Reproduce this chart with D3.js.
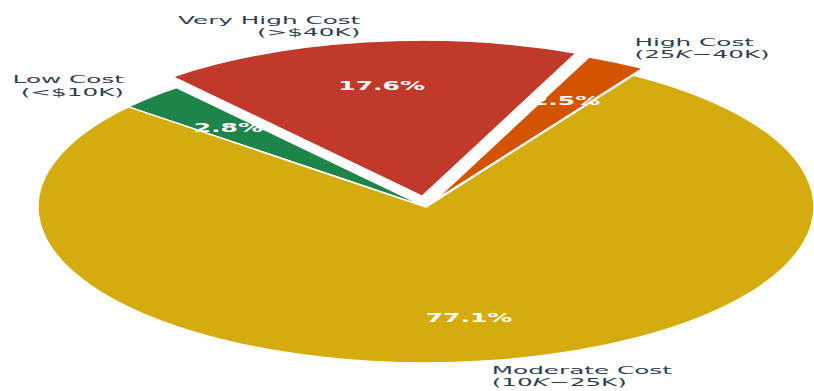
<!DOCTYPE html>
<html>
<head>
<meta charset="utf-8">
<script src="https://cdn.jsdelivr.net/npm/d3@7"></script>
<style>
  html, body { margin: 0; padding: 0; background: #fff; }
  svg { display: block; }
</style>
</head>
<body>
<svg id="chart" width="814" height="391"></svg>
<script>
// ---- data ----
const categories = ["Low Cost", "Moderate Cost", "High Cost", "Very High Cost"];
const ranges = ["(<$10K)", "(10{K}−25K)", "(25{K}−40K)", "(>$40K)"];
const values = [2.8, 77.1, 2.5, 17.6];
const explode = [0, 0, 0.05, 0.07];
const colors = ["#1e8449", "#d4ac0d", "#d35400", "#c0392b"];

// ---- layout ----
const W = 814, H = 391;
const cx = 426, cy = 207, rx = 388, ry = 156;
const startDeg = 130;              // counter-clockwise from 3 o'clock
const labelDist = 1.1, pctDist = 0.72;
const catFont = 10.6, catSx = 2.33, lineH = 12.6;
const pctFont = 12.5, pctSx = 2.0;

const svg = d3.select("#chart");
const toD3 = deg => Math.PI / 2 - deg * Math.PI / 180;

const pie = d3.pie().sort(null).value(d => d)
  .startAngle(toD3(startDeg))
  .endAngle(toD3(startDeg) - 2 * Math.PI);
const arcs = pie(values);
const arc = d3.arc().innerRadius(0).outerRadius(1);

const info = arcs.map((a, i) => {
  const theta = Math.PI / 2 - (a.startAngle + a.endAngle) / 2;
  const e = explode[i];
  return {
    a, i, theta,
    ox: rx * e * Math.cos(theta),
    oy: -ry * e * Math.sin(theta),
    pos: d => [cx + rx * (d + e) * Math.cos(theta), cy - ry * (d + e) * Math.sin(theta)]
  };
});

// wedges
svg.append("g").selectAll("path").data(info).join("path")
  .attr("transform", d => `translate(${cx + d.ox},${cy + d.oy}) scale(${rx},${ry})`)
  .attr("d", d => arc(d.a))
  .attr("fill", d => colors[d.i])
  .attr("stroke", "#fff")
  .attr("stroke-width", 1.5)
  .attr("stroke-linejoin", "round")
  .attr("vector-effect", "non-scaling-stroke");

// category labels: one text element per label, two lines as tspans
const lab = svg.append("g").selectAll("text").data(info).join("text")
  .attr("transform", d => {
    const [x, y] = d.pos(labelDist);
    return `translate(${x},${y}) scale(${catSx},1)`;
  })
  .attr("text-anchor", d => Math.cos(d.theta) < 0 ? "end" : "start")
  .attr("font-family", "DejaVu Sans, sans-serif")
  .attr("font-size", catFont)
  .attr("fill", "#2c3e50");

lab.each(function(d) {
  const t = d3.select(this);
  const lines = [categories[d.i], ranges[d.i]];
  lines.forEach((ln, k) => {
    const parts = ln.split(/(\{[^}]*\})/).filter(s => s.length);
    parts.forEach((p, j) => {
      const it = p.startsWith("{");
      const ts = t.append("tspan")
        .attr("font-style", it ? "italic" : null)
        .text(it ? p.slice(1, -1) : p);
      if (j === 0) {
        ts.attr("x", 0)
          .attr("y", (k - (lines.length - 1) / 2) * lineH + 3.6);
      }
    });
  });
});

// percentage labels
svg.append("g").selectAll("text").data(info).join("text")
  .attr("transform", d => {
    const [x, y] = d.pos(pctDist);
    return `translate(${x},${y}) scale(${pctSx},1)`;
  })
  .attr("y", 4.5)
  .attr("text-anchor", "middle")
  .attr("font-family", "DejaVu Sans, sans-serif")
  .attr("font-weight", "bold")
  .attr("font-size", pctFont)
  .attr("fill", "#fff")
  .text(d => values[d.i].toFixed(1) + "%");
</script>
</body>
</html>
